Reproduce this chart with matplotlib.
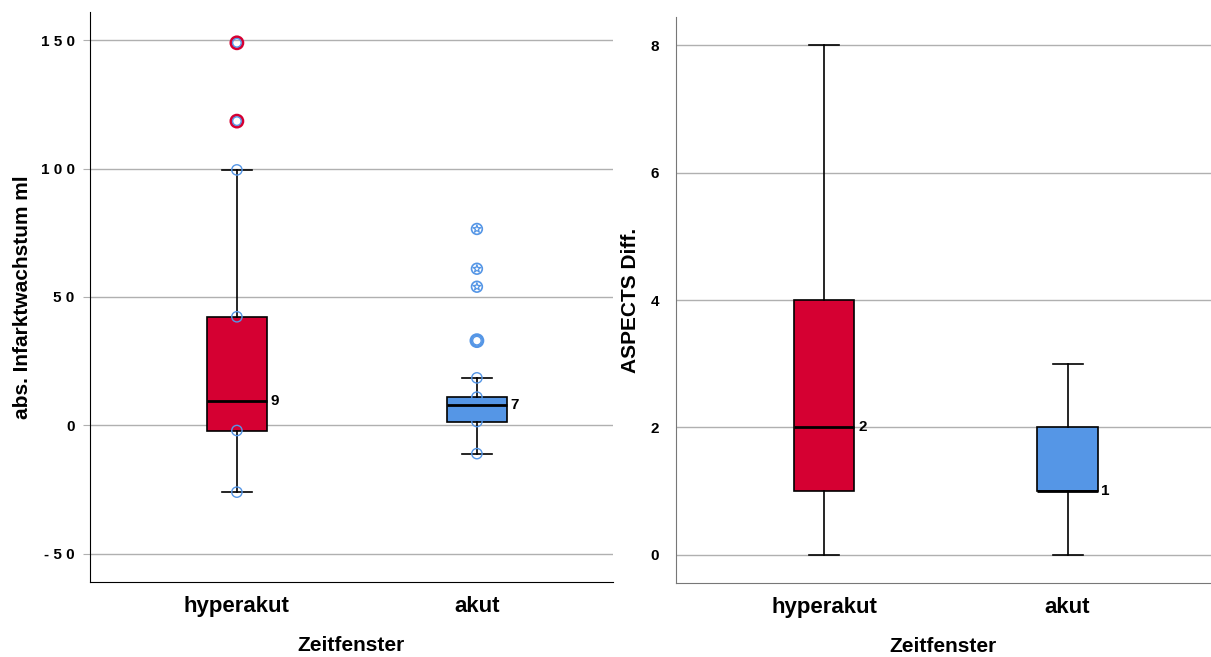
import matplotlib.pyplot as plt

# groups
groups = ["hyperakut", "akut"]

# left panel: abs. Infarktwachstum ml
inf_q1 = [-2, 1.5]
inf_med = [9.3, 7.8]
inf_q3 = [42.3, 11]
inf_wlo = [-26, -11]
inf_whi = [99.5, 18.5]
inf_points = [[99.5, 42.3, -2, -26], [18.5, 11, 1.5, -11]]
inf_outliers = [[118.5, 149], [33]]
inf_extremes = [[], [54, 61, 76.5]]
inf_labels = ["9", "7"]

# right panel: ASPECTS Diff.
asp_q1 = [1, 1]
asp_med = [2, 1]
asp_q3 = [4, 2]
asp_wlo = [0, 0]
asp_whi = [8, 3]
asp_labels = ["2", "1"]

red = "#D50032"
blue = "#5596E6"
colors = [red, blue]

plt.rcParams['font.family'] = ['Liberation Sans', 'DejaVu Sans']

fig = plt.figure(figsize=(12.11, 6.57), dpi=100)
ax1 = fig.add_axes([90/1211, 1-582/657, 523/1211, 570/657])
ax2 = fig.add_axes([676/1211, 1-583/657, 535/1211, 566/657])


def make_stats(q1, med, q3, wlo, whi):
  stats = []
  for i in range(len(q1)):
    stats.append({"med": med[i], "q1": q1[i], "q3": q3[i],
                  "whislo": wlo[i], "whishi": whi[i], "fliers": []})
  return stats


def draw(ax, stats, labels, width):
  bp = ax.bxp(stats, positions=[1, 2], widths=width, patch_artist=True,
              showfliers=False, zorder=3,
              boxprops=dict(linewidth=1.2, edgecolor="black"),
              medianprops=dict(color="black", linewidth=2.0),
              whiskerprops=dict(color="black", linewidth=1.2),
              capprops=dict(color="black", linewidth=1.2))
  for patch, c in zip(bp["boxes"], colors):
    patch.set_facecolor(c)
  for i, s in enumerate(stats):
    ax.text(i + 1 + width/2 + 0.015, s["med"], labels[i], fontsize=11,
            fontweight="bold", va="center", ha="left", zorder=5)


# left panel
draw(ax1, make_stats(inf_q1, inf_med, inf_q3, inf_wlo, inf_whi), inf_labels, 0.25)
for i in range(2):
  ax1.scatter([i + 1]*len(inf_points[i]), inf_points[i], s=55, facecolors="none",
              edgecolors=blue, linewidths=1.0, zorder=4)
  if inf_outliers[i]:
    oc = red if i == 0 else blue
    ax1.scatter([i + 1]*len(inf_outliers[i]), inf_outliers[i], s=75, facecolors="none",
                edgecolors=oc, linewidths=2.0, zorder=4)
    ax1.scatter([i + 1]*len(inf_outliers[i]), inf_outliers[i], s=38, facecolors="none",
                edgecolors=blue, linewidths=1.0, zorder=5)
  if inf_extremes[i]:
    ax1.scatter([i + 1]*len(inf_extremes[i]), inf_extremes[i], s=60, facecolors="none",
                edgecolors=blue, linewidths=1.2, zorder=4)
    ax1.scatter([i + 1]*len(inf_extremes[i]), inf_extremes[i], s=35, marker="*",
                facecolors="none", edgecolors=blue, linewidths=0.9, zorder=5)

ax1.set_xlim(0.388, 2.567)
ax1.set_ylim(-61, 161)
ax1.set_yticks([-50, 0, 50, 100, 150])
ax1.set_yticklabels(["- 5 0", "0", "5 0", "1 0 0", "1 5 0"])
ax1.set_ylabel("abs. Infarktwachstum ml", fontsize=15, fontweight="bold", labelpad=6)

# right panel
draw(ax2, make_stats(asp_q1, asp_med, asp_q3, asp_wlo, asp_whi), asp_labels, 0.247)
ax2.set_xlim(0.39, 2.59)
ax2.set_ylim(-0.44, 8.44)
ax2.set_yticks([0, 2, 4, 6, 8])
ax2.set_ylabel("ASPECTS Diff.", fontsize=15, fontweight="bold", labelpad=8)

for ax in [ax1, ax2]:
  ax.set_xticks([1, 2])
  ax.set_xticklabels(groups, fontsize=16, fontweight="bold")
  ax.set_xlabel("Zeitfenster", fontsize=15, fontweight="bold", labelpad=14)
  ax.grid(axis="y", color="#b0b0b0", linewidth=1.0, zorder=0)
  ax.set_axisbelow(True)
  ax.spines["top"].set_visible(False)
  ax.spines["right"].set_visible(False)
  ax.tick_params(axis="x", length=0, pad=10)
  ax.tick_params(axis="y", labelsize=11, pad=6)
  for lab in ax.get_yticklabels():
    lab.set_fontweight("bold")

ax1.tick_params(axis="y", length=5, color="#b0b0b0")
ax2.tick_params(axis="y", length=0, pad=12)
ax2.spines["left"].set_color("#777777")
ax2.spines["bottom"].set_color("#777777")

plt.savefig("out.png", dpi=100)
